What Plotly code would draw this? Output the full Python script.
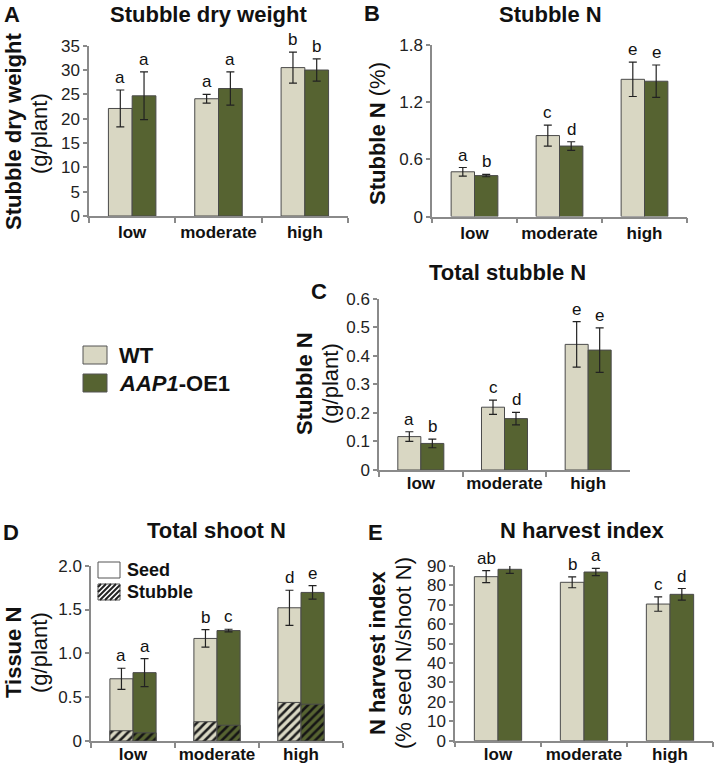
import plotly.graph_objects as go

W, H = 714, 765
FONT = "Liberation Sans, Arial, sans-serif"
WT_COLOR = "#d9d7c3"
OE_COLOR = "#566331"
AXIS_COLOR = "#8a8a8a"
BAR_LINE = "#4a4a4a"
ERR_COLOR = "#222222"

categories = ["low", "moderate", "high"]

# A: stubble dry weight (g/plant)
dw_wt = [22.1, 24.1, 30.5]
dw_wt_err = [3.8, 0.9, 3.2]
dw_oe = [24.7, 26.2, 30.0]
dw_oe_err = [4.9, 3.4, 2.3]
dw_let_wt = ["a", "a", "b"]
dw_let_oe = ["a", "a", "b"]

# B: stubble N (%)
sn_wt = [0.47, 0.85, 1.44]
sn_wt_err = [0.045, 0.11, 0.18]
sn_oe = [0.43, 0.74, 1.42]
sn_oe_err = [0.012, 0.045, 0.17]
sn_let_wt = ["a", "c", "e"]
sn_let_oe = ["b", "d", "e"]

# C: total stubble N (g/plant)
tsn_wt = [0.117, 0.22, 0.44]
tsn_wt_err = [0.017, 0.025, 0.08]
tsn_oe = [0.093, 0.18, 0.42]
tsn_oe_err = [0.015, 0.022, 0.078]
tsn_let_wt = ["a", "c", "e"]
tsn_let_oe = ["b", "d", "e"]

# D: total shoot N (g/plant); stubble portion = total stubble N
shoot_wt = [0.71, 1.17, 1.52]
shoot_wt_err = [0.12, 0.10, 0.20]
shoot_oe = [0.78, 1.26, 1.695]
shoot_oe_err = [0.16, 0.015, 0.077]
shoot_let_wt = ["a", "b", "d"]
shoot_let_oe = ["a", "c", "e"]

# E: N harvest index (%)
nhi_wt = [84.5, 81.6, 70.4]
nhi_wt_err = [3.1, 2.8, 3.7]
nhi_oe = [88.3, 86.9, 75.4]
nhi_oe_err = [2.1, 1.9, 3.0]
nhi_let_wt = ["ab", "b", "c"]
nhi_let_oe = ["a", "a", "d"]

BARGAP = 0.45
OFF = (1 - BARGAP) / 4


def px(x):
    return x / W


def py(y):
    return 1 - y / H


fig = go.Figure()


def err(arr):
    return dict(type="data", array=arr, visible=True, color=ERR_COLOR,
                thickness=1.2, width=4)


def add_pair(i, wt, wte, oe, oee):
    ax = "" if i == 1 else str(i)
    fig.add_trace(go.Bar(x=categories, y=wt, error_y=err(wte), marker=dict(color=WT_COLOR, line=dict(color=BAR_LINE, width=1)),
                         xaxis="x" + ax, yaxis="y" + ax, offsetgroup="wt", showlegend=False, name="WT"))
    fig.add_trace(go.Bar(x=categories, y=oe, error_y=err(oee), marker=dict(color=OE_COLOR, line=dict(color=BAR_LINE, width=1)),
                         xaxis="x" + ax, yaxis="y" + ax, offsetgroup="oe", showlegend=False, name="AAP1-OE1"))


add_pair(1, dw_wt, dw_wt_err, dw_oe, dw_oe_err)
add_pair(2, sn_wt, sn_wt_err, sn_oe, sn_oe_err)
add_pair(3, tsn_wt, tsn_wt_err, tsn_oe, tsn_oe_err)
# D: total (seed + stubble) then stubble overlay with hatch
add_pair(4, shoot_wt, shoot_wt_err, shoot_oe, shoot_oe_err)
fig.add_trace(go.Bar(x=categories, y=tsn_wt, marker=dict(color=WT_COLOR, line=dict(color=BAR_LINE, width=1),
                     pattern=dict(shape="/", fgcolor="#1e1e1e", bgcolor=WT_COLOR, size=6, solidity=0.42, fillmode="replace")),
                     xaxis="x4", yaxis="y4", offsetgroup="wt", showlegend=False, name="WT stubble"))
fig.add_trace(go.Bar(x=categories, y=tsn_oe, marker=dict(color=OE_COLOR, line=dict(color=BAR_LINE, width=1),
                     pattern=dict(shape="/", fgcolor="#151515", bgcolor=OE_COLOR, size=6, solidity=0.42, fillmode="replace")),
                     xaxis="x4", yaxis="y4", offsetgroup="oe", showlegend=False, name="AAP1-OE1 stubble"))
add_pair(5, nhi_wt, nhi_wt_err, nhi_oe, nhi_oe_err)

panels = {
    1: dict(x=(89, 348), y=(45.7, 216), rng=[0, 35], tv=[0, 5, 10, 15, 20, 25, 30, 35], tt=None, so=0),
    2: dict(x=(432, 687), y=(45, 216.6), rng=[0, 1.8], tv=[0, 0.6, 1.2, 1.8], tt=["0", "0.6", "1.2", "1.8"], so=0),
    3: dict(x=(379, 630), y=(298.7, 470), rng=[0, 0.6], tv=[0, 0.1, 0.2, 0.3, 0.4, 0.5, 0.6],
            tt=["0", "0.1", "0.2", "0.3", "0.4", "0.5", "0.6"], so=-3),
    4: dict(x=(91, 343), y=(565.7, 741), rng=[0, 2.0], tv=[0, 0.5, 1.0, 1.5, 2.0], tt=["0", "0.5", "1.0", "1.5", "2.0"], so=-3),
    5: dict(x=(455, 713), y=(566, 740.7), rng=[0, 90], tv=list(range(0, 91, 10)), tt=None, so=-3),
}

layout = dict(
    width=W, height=H, margin=dict(l=0, r=0, t=0, b=0, autoexpand=False),
    paper_bgcolor="white", plot_bgcolor="white",
    barmode="group", bargap=BARGAP, bargroupgap=0,
    font=dict(family=FONT, color="#111111"),
)
for i, p in panels.items():
    ax = "" if i == 1 else str(i)
    layout["xaxis" + ax] = dict(
        domain=[px(p["x"][0]), px(p["x"][1])], anchor="y" + ax, type="category",
        categoryorder="array", categoryarray=categories, range=[-0.5, 2.5],
        showline=True, linecolor=AXIS_COLOR, linewidth=1.5, ticks="outside", tickson="boundaries",
        ticklen=5, tickcolor=AXIS_COLOR, tickwidth=1.5, showgrid=False, fixedrange=True, tickangle=0,
        automargin=False, ticklabelstandoff=p["so"],
        tickfont=dict(size=17, family=FONT, color="#111111", weight="bold"),
    )
    yax = dict(
        domain=[py(p["y"][1]), py(p["y"][0])], anchor="x" + ax, range=p["rng"],
        tickvals=p["tv"], showline=True, linecolor=AXIS_COLOR, linewidth=1.5, ticks="outside",
        ticklen=4, tickcolor=AXIS_COLOR, tickwidth=1.5, showgrid=False, zeroline=False, fixedrange=True,
        automargin=False,
        tickfont=dict(size=17, family=FONT, color="#222222"),
    )
    if p["tt"]:
        yax["ticktext"] = p["tt"]
    layout["yaxis" + ax] = yax

fig.update_layout(**layout)

annotations = []


def letters(i, vals, errs, labs, off):
    ax = "" if i == 1 else str(i)
    for k, (v, e, lab) in enumerate(zip(vals, errs, labs)):
        annotations.append(dict(x=k + off, y=v + e, xref="x" + ax, yref="y" + ax, text=lab, showarrow=False,
                                xanchor="center", yanchor="bottom", yshift=1,
                                font=dict(size=17, family=FONT, color="#111111")))


letters(1, dw_wt, dw_wt_err, dw_let_wt, -OFF)
letters(1, dw_oe, dw_oe_err, dw_let_oe, OFF)
letters(2, sn_wt, sn_wt_err, sn_let_wt, -OFF)
letters(2, sn_oe, sn_oe_err, sn_let_oe, OFF)
letters(3, tsn_wt, tsn_wt_err, tsn_let_wt, -OFF)
letters(3, tsn_oe, tsn_oe_err, tsn_let_oe, OFF)
letters(4, shoot_wt, shoot_wt_err, shoot_let_wt, -OFF)
letters(4, shoot_oe, shoot_oe_err, shoot_let_oe, OFF)
letters(5, nhi_wt, nhi_wt_err, nhi_let_wt, -OFF)
letters(5, nhi_oe, nhi_oe_err, nhi_let_oe, OFF)


def ptext(x, y, text, size, xanchor="center", angle=0):
    annotations.append(dict(x=px(x), y=py(y), xref="paper", yref="paper", text=text, showarrow=False,
                            xanchor=xanchor, yanchor="middle", textangle=angle, borderpad=0,
                            font=dict(size=size, family=FONT, color="#111111")))


# panel titles
ptext(208, 14, "<b>Stubble dry weight</b>", 22)
ptext(550, 14, "<b>Stubble N</b>", 22)
ptext(507, 272, "<b>Total stubble N</b>", 22)
ptext(217, 530, "<b>Total shoot N</b>", 22)
ptext(582, 530, "<b>N harvest index</b>", 22)

# panel letters
ptext(12, 14, "<b>A</b>", 22)
ptext(372, 13, "<b>B</b>", 22)
ptext(319, 291, "<b>C</b>", 22)
ptext(11, 532, "<b>D</b>", 22)
ptext(375, 532, "<b>E</b>", 22)

# y-axis titles (bold line, then unit line)
ptext(13, 132, "<b>Stubble dry weight</b>", 22, angle=-90)
ptext(39, 134, "(g/plant)", 22, angle=-90)
ptext(377, 134, "<b>Stubble N</b> (%)", 22, angle=-90)
ptext(304, 384, "<b>Stubble N</b>", 22, angle=-90)
ptext(330, 384, "(g/plant)", 22, angle=-90)
ptext(13, 653, "<b>Tissue N</b>", 22, angle=-90)
ptext(39, 653, "(g/plant)", 22, angle=-90)
ptext(377, 653, "<b>N harvest index</b>", 22, angle=-90)
ptext(403, 653, "(% seed N/shoot N)", 22, angle=-90)

# main legend
shapes = []


def pbox(x0, y0, x1, y1, fill):
    shapes.append(dict(type="rect", xref="paper", yref="paper", x0=px(x0), x1=px(x1), y0=py(y1), y1=py(y0),
                       fillcolor=fill, line=dict(color="#555555", width=1)))


pbox(83, 346, 107, 364, WT_COLOR)
pbox(83, 374, 107, 392, OE_COLOR)
ptext(118, 355, "<b>WT</b>", 22, xanchor="left")
ptext(118, 383, "<b><i>AAP1</i>-OE1</b>", 22, xanchor="left")

# D legend (seed / stubble)
pbox(98, 562, 120, 578, "white")
pbox(98, 584, 120, 600, "white")
bx0, by0, bx1, by1 = 98, 584, 120, 600
h = by1 - by0
c = bx0 - h + 3
while c < bx1:
    xa, ya = c, by1
    xb, yb = c + h, by0
    if xa < bx0:
        ya = by1 - (bx0 - xa)
        xa = bx0
    if xb > bx1:
        yb = by0 + (xb - bx1)
        xb = bx1
    if xb > xa:
        shapes.append(dict(type="line", xref="paper", yref="paper", x0=px(xa), y0=py(ya), x1=px(xb), y1=py(yb),
                           line=dict(color="#222222", width=2)))
    c += 5
ptext(126, 570, "<b>Seed</b>", 18, xanchor="left")
ptext(126, 592, "<b>Stubble</b>", 18, xanchor="left")

fig.update_layout(annotations=annotations, shapes=shapes)
fig.write_html("out.html", config={"displayModeBar": False},
               post_script="document.body.style.margin='0';document.body.style.overflow='hidden';")
